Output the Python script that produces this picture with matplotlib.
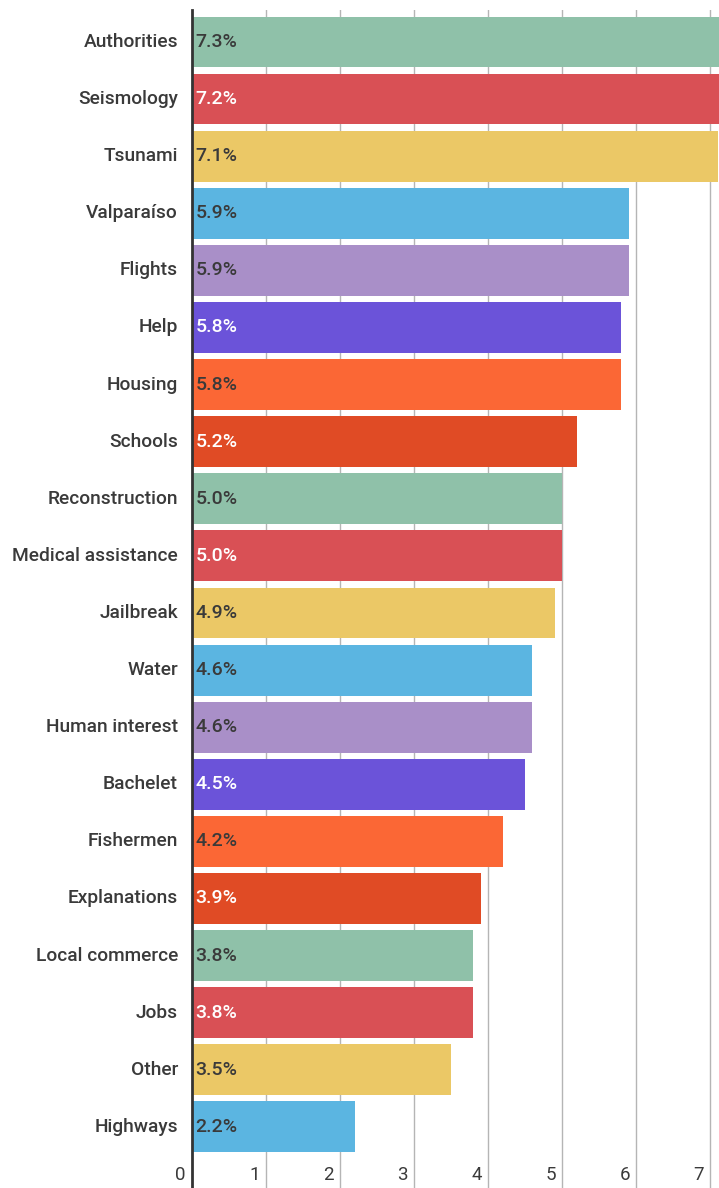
import numpy as np
import matplotlib.pyplot as plt
from matplotlib.transforms import offset_copy

plt.rcParams['font.family'] = ['Roboto', 'DejaVu Sans']

# Share of coverage by topic (%)
topics = ['Authorities', 'Seismology', 'Tsunami', 'Valparaíso', 'Flights', 'Help',
          'Housing', 'Schools', 'Reconstruction', 'Medical assistance', 'Jailbreak',
          'Water', 'Human interest', 'Bachelet', 'Fishermen', 'Explanations',
          'Local commerce', 'Jobs', 'Other', 'Highways']
shares = [7.3, 7.2, 7.1, 5.9, 5.9, 5.8, 5.8, 5.2, 5.0, 5.0, 4.9,
          4.6, 4.6, 4.5, 4.2, 3.9, 3.8, 3.8, 3.5, 2.2]
xticks = [0, 1, 2, 3, 4, 5, 6, 7]

palette = ['#8fc1a9', '#d95055', '#ebc866', '#5bb5e1', '#a98fc8',
           '#6b53d9', '#fb6735', '#e04b25']
light_text = {'#d95055', '#6b53d9', '#e04b25'}

fig = plt.figure(figsize=(7.19, 11.88), dpi=100)
ax = fig.add_axes([192 / 719, 0, 1 - 192 / 719, (1188 - 10) / 1188])

y = np.arange(len(topics))
colors = [palette[i % len(palette)] for i in range(len(topics))]
ax.barh(y, shares, height=0.89, color=colors, zorder=2)

ax.set_xlim(0, 7.12)
ax.set_ylim(20.07, -0.56)

for xv in xticks[1:]:
    ax.axvline(xv, color='#b5b5b5', lw=1, zorder=1)

for s in ['top', 'right', 'bottom']:
    ax.spines[s].set_visible(False)
ax.spines['left'].set_color('#333333')
ax.spines['left'].set_linewidth(2)
ax.spines['left'].set_zorder(3)
ax.set_xticks([])
ax.set_yticks([])

# value labels inside bars
for yi, v, c in zip(y, shares, colors):
    tc = 'white' if c in light_text else '#3a3a3a'
    ax.text(0.05, yi, f'{v:.1f}%', va='center', ha='left', fontsize=14,
            fontweight='medium', color=tc, zorder=4)

# category labels
lab_tr = offset_copy(ax.transData, fig=fig, x=-14, y=0, units='dots')
for yi, t in zip(y, topics):
    ax.text(0, yi, t, transform=lab_tr, va='center', ha='right', fontsize=13.8,
            fontweight='medium', color='#3a3a3a', clip_on=False)

# x tick labels drawn at the foot of the plot, left of each gridline
tick_tr = offset_copy(ax.transData, fig=fig, x=-6, y=0, units='dots')
for xv in xticks:
    ax.text(xv, 19.84, str(xv), transform=tick_tr, va='center', ha='right',
            fontsize=13.5, color='#3a3a3a', clip_on=False)

fig.savefig('out.png', dpi=100)
